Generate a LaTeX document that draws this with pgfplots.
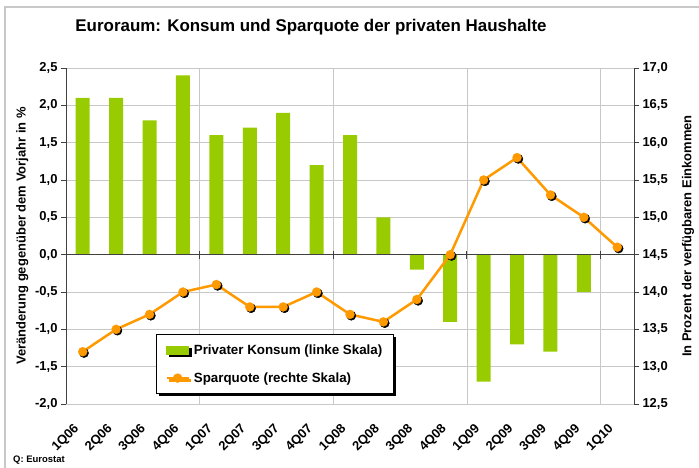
\documentclass[border=0pt]{standalone}
\usepackage{pgfplots}
\pgfplotsset{compat=1.18}
\usepackage{fontspec}
\setmainfont{Liberation Sans}
\usetikzlibrary{shadows}
\definecolor{barg}{HTML}{99CC00}
\definecolor{lineo}{HTML}{FF9900}
\definecolor{gridc}{HTML}{C8C8C8}
\definecolor{axc}{HTML}{404040}
\newcommand{\lblfont}{\fontsize{13}{15}\selectfont\bfseries}
\begin{document}
\begin{tikzpicture}
\useasboundingbox (-66bp,-64bp) rectangle (633bp,404bp);
\draw[gridc, line width=1.5bp] (-61bp,-70bp) -- (-61bp,397bp) -- (640bp,397bp);
\begin{axis}[
  at={(0,0)}, anchor=south west,
  scale only axis, width=568bp, height=336bp,
  xmin=-0.5, xmax=16.5, ymin=-2, ymax=2.5,
  axis x line*=bottom, axis y line*=left,
  x axis line style={draw=none},
  y axis line style={axc, line width=0.9bp},
  xtick={0,...,16},
  xticklabels={1Q06,2Q06,3Q06,4Q06,1Q07,2Q07,3Q07,4Q07,1Q08,2Q08,3Q08,4Q08,1Q09,2Q09,3Q09,4Q09,1Q10},
  x tick style={draw=none},
  xticklabel style={rotate=45, anchor=north east, inner sep=0pt, font=\lblfont, xshift=-16.4bp, yshift=-2.4bp},
  ytick={-2,-1.5,-1,-0.5,0,0.5,1,1.5,2,2.5},
  y tick style={axc, line width=0.9bp},
  tick align=outside, major tick length=5bp,
  /pgf/number format/assume math mode=true,
  yticklabel style={/pgf/number format/.cd, fixed, fixed zerofill, precision=1, use comma, /tikz/.cd, font=\lblfont},
  ymajorgrids, major grid style={gridc, line width=0.8bp},
  ylabel={Veränderung gegenüber dem Vorjahr in \%},
  ylabel style={at={(axis description cs:-0.077,0.5)}, anchor=center, font=\lblfont},
]
\pgfplotsinvokeforeach{3.5,7.5,11.5,15.5}{
  \draw[gridc, line width=0.8bp] (axis cs:#1,-2) -- (axis cs:#1,2.5);
}
\addplot[ybar, bar width=14bp, fill=barg, draw=none] coordinates {
(0,2.1) (1,2.1) (2,1.8) (3,2.4) (4,1.6) (5,1.7) (6,1.9) (7,1.2) (8,1.6) (9,0.5)
(10,-0.2) (11,-0.9) (12,-1.7) (13,-1.2) (14,-1.3) (15,-0.5)};
\draw[axc, line width=0.9bp] (axis cs:-0.5,0) -- (axis cs:16.5,0);
\pgfplotsinvokeforeach{3.5,7.5,11.5,15.5}{
  \draw[axc, line width=0.9bp] (axis cs:#1,0) ++(0bp,-4bp) -- ++(0bp,8bp);
}
\end{axis}
\begin{axis}[
  at={(0,0)}, anchor=south west,
  scale only axis, width=568bp, height=336bp,
  xmin=-0.5, xmax=16.5, ymin=12.5, ymax=17,
  axis x line=none, axis y line*=right,
  y axis line style={axc, line width=0.9bp},
  ytick={12.5,13,13.5,14,14.5,15,15.5,16,16.5,17},
  y tick style={axc, line width=0.9bp},
  tick align=outside, major tick length=5bp,
  /pgf/number format/assume math mode=true,
  yticklabel style={/pgf/number format/.cd, fixed, fixed zerofill, precision=1, use comma, /tikz/.cd, font=\lblfont},
  ylabel={In Prozent der verfügbaren Einkommen},
  ylabel style={at={(axis description cs:1.095,0.5)}, anchor=center, rotate=0, font=\lblfont},
  legend style={at={(axis description cs:0.1585,0.2083)}, anchor=north west,
    draw=black, line width=0.7bp, fill=white,
    drop shadow={shadow xshift=2.5bp, shadow yshift=-2.5bp, fill=black, opacity=1},
    font=\fontsize{13.4}{15}\selectfont\bfseries, inner xsep=9bp, inner ysep=8bp, row sep=13bp, column sep=2bp,
    nodes={inner sep=2bp}},
  legend cell align=left,
  legend image code/.code={\draw[mark repeat=2,mark phase=2,#1] plot coordinates {(0bp,0bp) (11bp,0bp) (22bp,0bp)};},
  clip=false,
]
\addlegendimage{legend image code/.code={\fill[barg] (0bp,-4bp) rectangle (22bp,4bp);}}
\addlegendentry{Privater Konsum (linke Skala)}
\addplot[forget plot, only marks, mark=*, mark size=4.6bp, mark options={fill=black, draw=black, xshift=1.3bp, yshift=-1.3bp}] coordinates {
(0,13.2) (1,13.5) (2,13.7) (3,14.0) (4,14.1) (5,13.8) (6,13.8) (7,14.0) (8,13.7) (9,13.6)
(10,13.9) (11,14.5) (12,15.5) (13,15.8) (14,15.3) (15,15.0) (16,14.6)};
\addplot[lineo, line width=2.5bp, mark=*, mark size=4.6bp, mark options={fill=lineo, draw=lineo, line width=0.1bp}] coordinates {
(0,13.2) (1,13.5) (2,13.7) (3,14.0) (4,14.1) (5,13.8) (6,13.8) (7,14.0) (8,13.7) (9,13.6)
(10,13.9) (11,14.5) (12,15.5) (13,15.8) (14,15.3) (15,15.0) (16,14.6)};
\addlegendentry{Sparquote (rechte Skala)}
\end{axis}
\node[font=\fontsize{17}{20}\selectfont\bfseries] at (245bp,377bp) {Euroraum: Konsum und Sparquote der privaten Haushalte};
\node[font=\fontsize{9.5}{11}\selectfont\bfseries, anchor=west, inner sep=0pt] at (-53bp,-56bp) {Q: Eurostat};
\end{tikzpicture}
\end{document}
